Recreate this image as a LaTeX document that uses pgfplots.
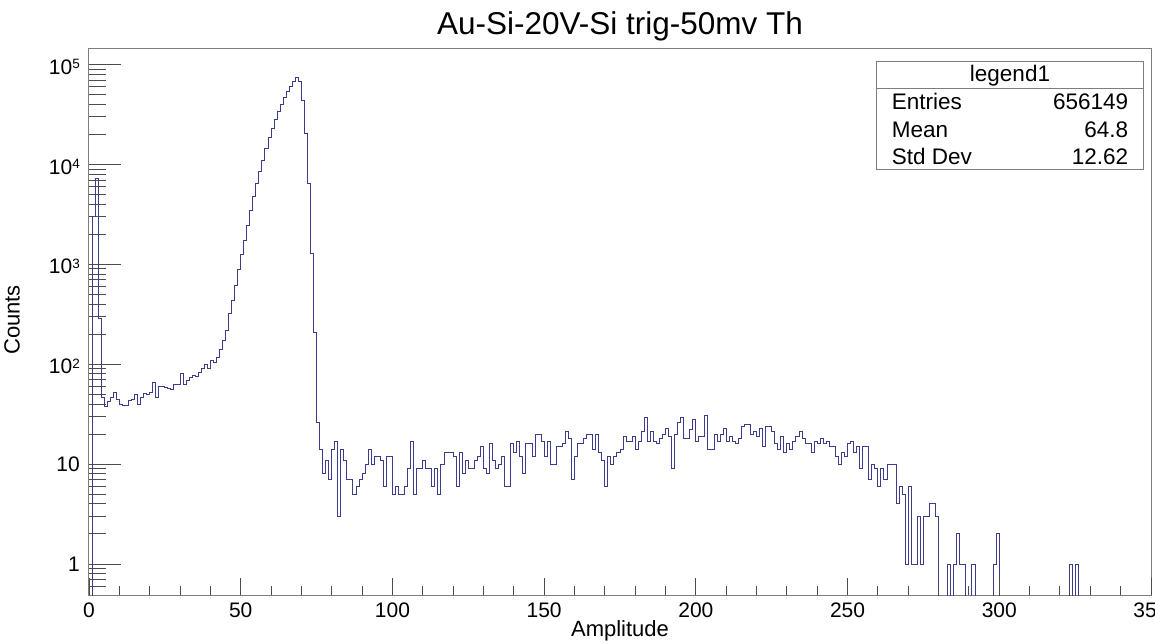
\documentclass[border=0pt]{standalone}
\usepackage{fontspec}
\setmainfont{Liberation Sans}
\usepackage{pgfplots}
\pgfplotsset{compat=1.18}
\definecolor{histc}{RGB}{60,60,140}
\definecolor{framec}{RGB}{125,125,125}
\newcommand{\tpow}[1]{\raisebox{0pt}[19bp][0pt]{10\raisebox{5.7bp}{\fontsize{13.5bp}{14bp}\selectfont #1}}}
\begin{document}
\begin{tikzpicture}
\path[use as bounding box] (-89bp,-49bp) rectangle (1066bp,595bp);
\begin{axis}[
  scale only axis, width=1062bp, height=546bp,
  ymode=log, xmin=0, xmax=350, ymin=0.49, ymax=143500,
  axis line style={framec, line width=1bp},
  tick pos=left, tick align=inside,
  xtick=\empty,
  ytick={1,10,100,1000,10000,100000},
  yticklabels={1,10,\tpow{2},\tpow{3},\tpow{4},\tpow{5}},
  minor ytick={0.6,0.7,0.8,0.9,2,3,4,5,6,7,8,9,20,30,40,50,60,70,80,90,200,300,400,500,600,700,800,900,2000,3000,4000,5000,6000,7000,8000,9000,20000,30000,40000,50000,60000,70000,80000,90000},
  major tick length=32bp, minor tick length=17bp,
  every tick/.style={black!70, line width=1bp},
  yticklabel style={font=\fontsize{21bp}{25bp}\selectfont, anchor=east, inner sep=0pt, xshift=-9bp},
  ylabel={Counts},
  every axis y label/.style={at={(rel axis cs:0,0.5)}, xshift=-77bp, yshift=2bp, rotate=90, anchor=center, font=\fontsize{22bp}{26bp}\selectfont},
  title={Au-Si-20V-Si trig-50mv Th},
  every axis title/.style={at={(rel axis cs:0.5,1)}, anchor=base, yshift=14bp, font=\fontsize{31.5bp}{36bp}\selectfont},
]
\addplot[const plot, histc, line width=1bp] coordinates {
(0,0.01)(1,3000)(2,7200)(3,286)(4,47)(5,38)(6,42)(7,46)(8,52)(9,44)
(10,40)(11,39)(12,39)(13,43)(14,44)(15,50)(16,40)(17,47)(18,51)(19,50)
(20,52)(21,66)(22,47)(23,60)(24,60)(25,58)(26,57)(27,56)(28,63)(29,63)
(30,81)(31,63)(32,69)(33,73)(34,77)(35,76)(36,82)(37,90)(38,100)(39,91)
(40,110)(41,105)(42,118)(43,140)(44,175)(45,220)(46,320)(47,440)(48,620)(49,880)
(50,1250)(51,1750)(52,2450)(53,3450)(54,4800)(55,6400)(56,8500)(57,11000)(58,14500)(59,18500)
(60,23000)(61,28000)(62,34000)(63,40000)(64,47000)(65,54000)(66,61000)(67,68000)(68,74000)(69,67500)
(70,43700)(71,20400)(72,6400)(73,1290)(74,206)(75,26)(76,14)(77,8)(78,11)(79,7)
(80,14)(81,17)(82,3)(83,14)(84,11)(85,7)(86,7)(87,5)(88,6)(89,7)
(90,8)(91,10)(92,14)(93,10)(94,12)(95,12)(96,11)(97,6)(98,12)(99,12)
(100,5)(101,6)(102,5)(103,5)(104,6)(105,9)(106,17)(107,5)(108,9)(109,9)
(110,11)(111,9)(112,9)(113,6)(114,9)(115,5)(116,10)(117,13)(118,13)(119,13)
(120,12)(121,6)(122,13)(123,8)(124,11)(125,9)(126,9)(127,11)(128,12)(129,15)
(130,9)(131,8)(132,16)(133,11)(134,9)(135,10)(136,12)(137,6)(138,6)(139,16)
(140,13)(141,17)(142,12)(143,8)(144,16)(145,16)(146,12)(147,20)(148,20)(149,17)
(150,12)(151,17)(152,10)(153,10)(154,15)(155,15)(156,16)(157,21)(158,18)(159,7)
(160,12)(161,16)(162,16)(163,18)(164,20)(165,20)(166,14)(167,20)(168,13)(169,11)
(170,6)(171,12)(172,10)(173,12)(174,13)(175,14)(176,19)(177,17)(178,17)(179,19)
(180,14)(181,17)(182,21)(183,29)(184,17)(185,21)(186,17)(187,16)(188,18)(189,20)
(190,23)(191,19)(192,9)(193,20)(194,26)(195,29)(196,18)(197,18)(198,22)(199,28)
(200,17)(201,19)(202,19)(203,31)(204,14)(205,14)(206,20)(207,17)(208,20)(209,23)
(210,17)(211,19)(212,17)(213,16)(214,18)(215,24)(216,25)(217,25)(218,20)(219,21)
(220,19)(221,23)(222,15)(223,24)(224,24)(225,21)(226,16)(227,14)(228,19)(229,13)
(230,16)(231,14)(232,17)(233,19)(234,21)(235,18)(236,16)(237,16)(238,13)(239,17)
(240,16)(241,18)(242,16)(243,17)(244,15)(245,15)(246,12)(247,10)(248,13)(249,12)
(250,16)(251,17)(252,13)(253,15)(254,9)(255,15)(256,15)(257,7)(258,10)(259,9)
(260,6)(261,9)(262,7)(263,10)(264,10)(265,10)(266,4)(267,6)(268,5)(269,1)
(270,6)(271,1)(272,1)(273,3)(274,1)(275,3)(276,3)(277,4)(278,4)(279,3)
(280,0.01)(283,1)(284,0.01)(285,1)(286,2)(287,1)(288,1)(289,0.01)
(291,1)(292,0.01)(298,1)(299,2)(300,0.01)
(323,1)(324,0.01)(325,1)(326,0.01)(350,0.01)
};
\end{axis}
\begin{axis}[
  scale only axis, width=1062bp, height=546bp,
  xmin=0, xmax=350, ymin=0, ymax=1,
  axis line style={draw=none},
  tick pos=left, tick align=inside,
  ytick=\empty,
  xtick={0,50,100,150,200,250,300,350},
  xticklabels={0,50,100,150,200,250,300,350},
  minor x tick num=4,
  major tick length=17bp, minor tick length=9bp,
  every tick/.style={black!70, line width=1bp},
  xticklabel style={font=\fontsize{21bp}{25bp}\selectfont, anchor=base, inner sep=0pt, yshift=-22bp},
  xlabel={Amplitude},
  every axis x label/.style={at={(rel axis cs:0.5,0)}, anchor=base, yshift=-41.7bp, font=\fontsize{22bp}{26bp}\selectfont},
]
\addplot[draw=none] coordinates {(0,0)};
\end{axis}
\begin{scope}[font=\fontsize{22.5bp}{27bp}\selectfont]
\draw[framec, line width=1bp, fill=white] (787.7bp,425bp) rectangle (1054.3bp,533.3bp);
\draw[framec, line width=1bp] (787.7bp,506.7bp) -- (1054.3bp,506.7bp);
\node[anchor=base, inner sep=0pt] at (921bp,513.3bp) {legend1};
\node[anchor=base west, inner sep=0pt] at (802.7bp,485bp) {Entries};
\node[anchor=base east, inner sep=0pt] at (1039.3bp,485bp) {656149};
\node[anchor=base west, inner sep=0pt] at (802.7bp,457.7bp) {Mean};
\node[anchor=base east, inner sep=0pt] at (1039.3bp,457.7bp) {64.8};
\node[anchor=base west, inner sep=0pt] at (802.7bp,430bp) {Std Dev};
\node[anchor=base east, inner sep=0pt] at (1039.3bp,430bp) {12.62};
\end{scope}
\end{tikzpicture}
\end{document}
